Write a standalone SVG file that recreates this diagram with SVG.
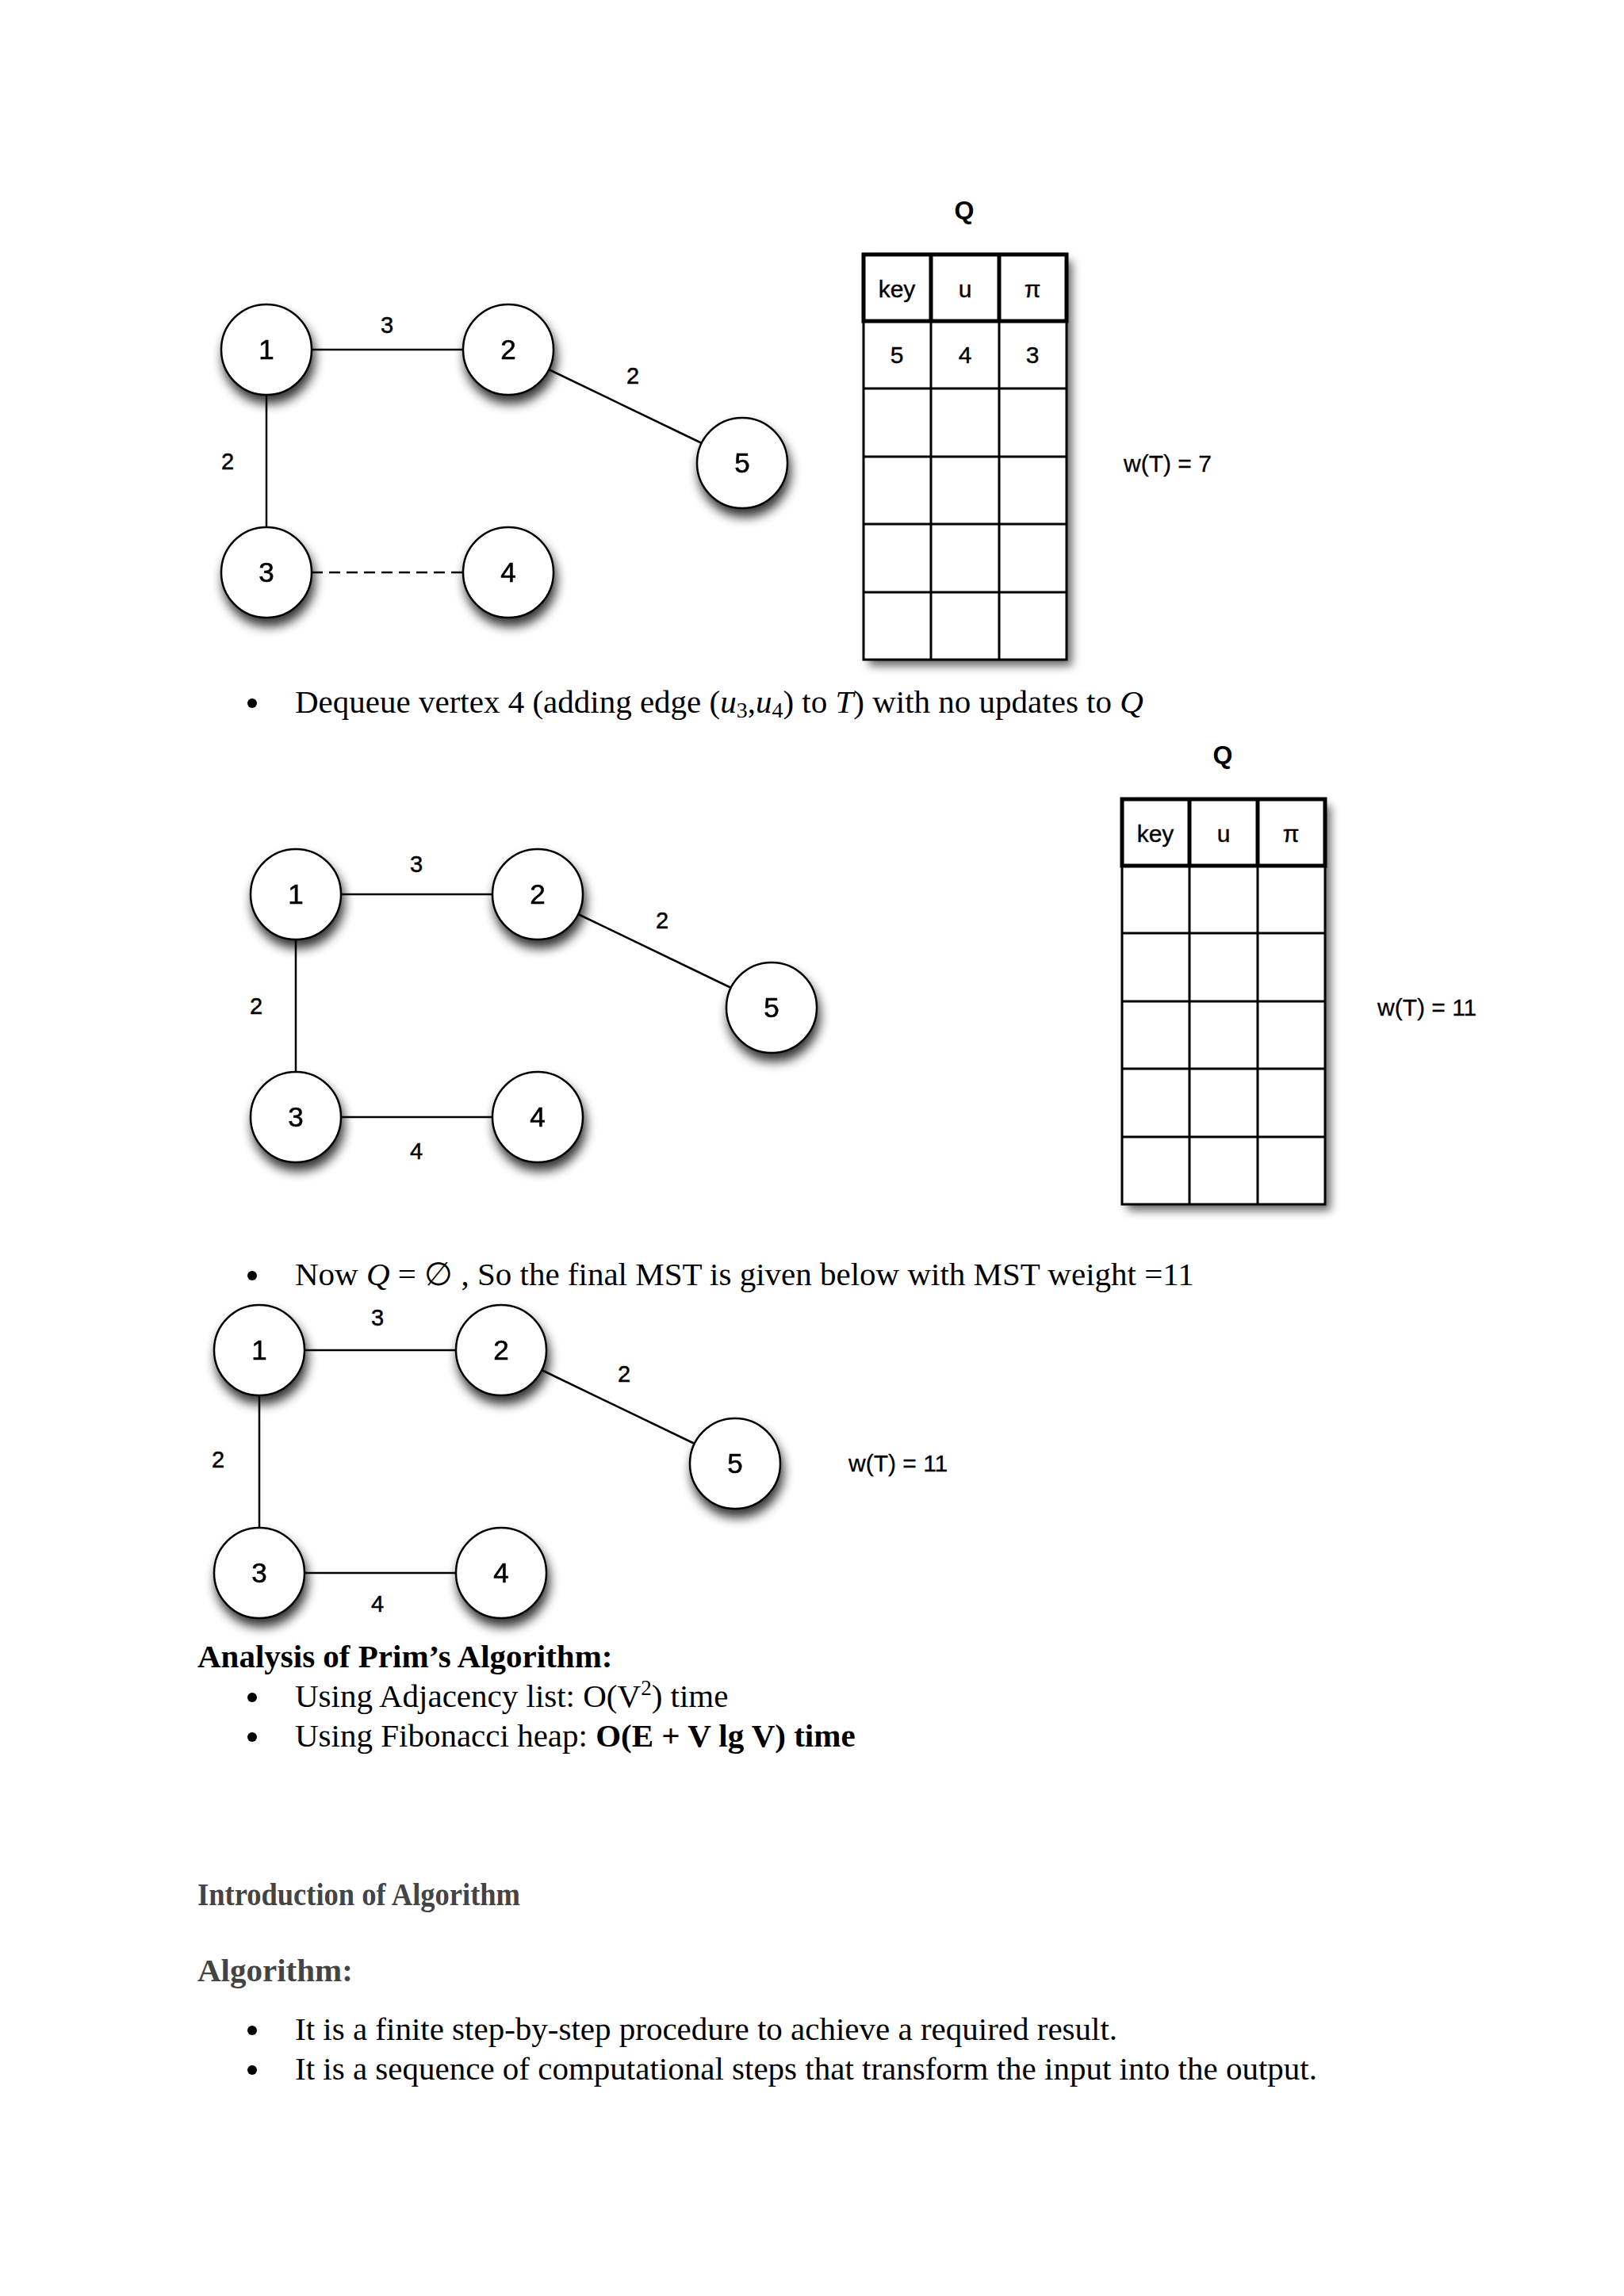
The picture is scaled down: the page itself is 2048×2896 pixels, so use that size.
<svg xmlns="http://www.w3.org/2000/svg" width="2048" height="2896" viewBox="0 0 2048 2896">
<defs>
<filter id="sh" x="-50%" y="-50%" width="200%" height="210%">
<feGaussianBlur in="SourceAlpha" stdDeviation="7"/>
<feOffset dx="3" dy="10" result="b"/>
<feComponentTransfer><feFuncA type="linear" slope="0.8"/></feComponentTransfer>
<feMerge><feMergeNode/><feMergeNode in="SourceGraphic"/></feMerge>
</filter>
<filter id="tsh" x="-10%" y="-10%" width="130%" height="125%">
<feGaussianBlur in="SourceAlpha" stdDeviation="6"/>
<feOffset dx="7" dy="8"/>
<feComponentTransfer><feFuncA type="linear" slope="0.6"/></feComponentTransfer>
<feMerge><feMergeNode/><feMergeNode in="SourceGraphic"/></feMerge>
</filter>
</defs>
<style>
.node circle{fill:#fff;stroke:#000;stroke-width:2.5}
.nl{font-family:"Liberation Sans",Arial,sans-serif;font-size:35px;text-anchor:middle;fill:#000;stroke:#000;stroke-width:0.6}
.el{font-family:"Liberation Sans",Arial,sans-serif;font-size:29px;text-anchor:middle;fill:#000;stroke:#000;stroke-width:0.5}
.edge{stroke:#000;stroke-width:2.5;fill:none}
.dash{stroke-dasharray:14 8}
.tb{font-family:"Liberation Sans",Arial,sans-serif;font-size:30px;text-anchor:middle;fill:#000;stroke:#000;stroke-width:0.4}
.ql{font-family:"Liberation Sans",Arial,sans-serif;font-size:32px;font-weight:bold;text-anchor:middle;fill:#000}
.wt{font-family:"Liberation Sans",Arial,sans-serif;font-size:30px;fill:#000;stroke:#000;stroke-width:0.3}
.thick{fill:#fff;stroke:#000;stroke-width:5}
.thin{fill:none;stroke:#000;stroke-width:3}
.body{font-family:"Liberation Serif","Times New Roman",serif;font-size:41px;fill:#000}
.hd{font-family:"Liberation Serif","Times New Roman",serif;font-size:41px;font-weight:bold;fill:#000}
.gh{font-family:"Liberation Serif","Times New Roman",serif;font-size:41px;font-weight:bold;fill:#444}
.bul{fill:#000}
</style>
<rect width="2048" height="2896" fill="#fff"/>

<!-- Graph 1 -->
<g id="graph1-edges">
<line class="edge" x1="393" y1="441" x2="584" y2="441"/>
<line class="edge" x1="336" y1="498" x2="336" y2="665"/>
<line class="edge" x1="692" y1="466" x2="885" y2="559"/>
<line class="edge dash" x1="393" y1="722" x2="584" y2="722"/>
<text class="el" x="488" y="420">3</text>
<text class="el" x="798" y="484">2</text>
<text class="el" x="287" y="592">2</text>
</g>
<g id="g1-n1" class="node" filter="url(#sh)"><circle cx="336" cy="441" r="57"/><text class="nl" x="336" y="453">1</text></g>
<g id="g1-n2" class="node" filter="url(#sh)"><circle cx="641" cy="441" r="57"/><text class="nl" x="641" y="453">2</text></g>
<g id="g1-n5" class="node" filter="url(#sh)"><circle cx="936" cy="584" r="57"/><text class="nl" x="936" y="596">5</text></g>
<g id="g1-n3" class="node" filter="url(#sh)"><circle cx="336" cy="722" r="57"/><text class="nl" x="336" y="734">3</text></g>
<g id="g1-n4" class="node" filter="url(#sh)"><circle cx="641" cy="722" r="57"/><text class="nl" x="641" y="734">4</text></g>

<!-- Table 1 -->
<g id="table1">
<text class="ql" x="1216" y="276">Q</text>
<g filter="url(#tsh)">
<rect x="1089" y="321" width="256" height="511" fill="#fff"/>
</g>
<rect class="thin" x="1089" y="405" width="256" height="427"/>
<line class="thin" x1="1174" y1="405" x2="1174" y2="832"/>
<line class="thin" x1="1260" y1="405" x2="1260" y2="832"/>
<line class="thin" x1="1089" y1="490" x2="1345" y2="490"/>
<line class="thin" x1="1089" y1="576" x2="1345" y2="576"/>
<line class="thin" x1="1089" y1="661" x2="1345" y2="661"/>
<line class="thin" x1="1089" y1="747" x2="1345" y2="747"/>
<rect class="thick" x="1089" y="321" width="256" height="84"/>
<line class="thick" x1="1174" y1="321" x2="1174" y2="405"/>
<line class="thick" x1="1260" y1="321" x2="1260" y2="405"/>
<text class="tb" x="1131" y="375">key</text>
<text class="tb" x="1217" y="375">u</text>
<text class="tb" x="1302" y="375">π</text>
<text class="tb" x="1131" y="458">5</text>
<text class="tb" x="1217" y="458">4</text>
<text class="tb" x="1302" y="458">3</text>
<text class="wt" x="1417" y="595">w(T) = 7</text>
</g>

<!-- Bullet 1 -->
<g id="bullet1">
<circle class="bul" cx="318" cy="887" r="6"/>
<text class="body" x="372" y="899">Dequeue vertex 4 (adding edge (<tspan font-style="italic">u</tspan><tspan font-size="28" dy="6">3</tspan><tspan dy="-6">,</tspan><tspan font-style="italic">u</tspan><tspan font-size="28" dy="6">4</tspan><tspan dy="-6">) to </tspan><tspan font-style="italic">T</tspan>) with no updates to <tspan font-style="italic">Q</tspan></text>
</g>

<!-- Graph 2 -->
<g id="graph2-edges">
<line class="edge" x1="430" y1="1128" x2="621" y2="1128"/>
<line class="edge" x1="373" y1="1185" x2="373" y2="1352"/>
<line class="edge" x1="729" y1="1153" x2="922" y2="1246"/>
<line class="edge" x1="430" y1="1409" x2="621" y2="1409"/>
<text class="el" x="525" y="1100">3</text>
<text class="el" x="835" y="1171">2</text>
<text class="el" x="323" y="1279">2</text>
<text class="el" x="525" y="1462">4</text>
</g>
<g id="g2-n1" class="node" filter="url(#sh)"><circle cx="373" cy="1128" r="57"/><text class="nl" x="373" y="1140">1</text></g>
<g id="g2-n2" class="node" filter="url(#sh)"><circle cx="678" cy="1128" r="57"/><text class="nl" x="678" y="1140">2</text></g>
<g id="g2-n5" class="node" filter="url(#sh)"><circle cx="973" cy="1271" r="57"/><text class="nl" x="973" y="1283">5</text></g>
<g id="g2-n3" class="node" filter="url(#sh)"><circle cx="373" cy="1409" r="57"/><text class="nl" x="373" y="1421">3</text></g>
<g id="g2-n4" class="node" filter="url(#sh)"><circle cx="678" cy="1409" r="57"/><text class="nl" x="678" y="1421">4</text></g>

<!-- Table 2 -->
<g id="table2">
<text class="ql" x="1542" y="963">Q</text>
<g filter="url(#tsh)">
<rect x="1415" y="1008" width="256" height="511" fill="#fff"/>
</g>
<rect class="thin" x="1415" y="1092" width="256" height="427"/>
<line class="thin" x1="1500" y1="1092" x2="1500" y2="1519"/>
<line class="thin" x1="1586" y1="1092" x2="1586" y2="1519"/>
<line class="thin" x1="1415" y1="1177" x2="1671" y2="1177"/>
<line class="thin" x1="1415" y1="1263" x2="1671" y2="1263"/>
<line class="thin" x1="1415" y1="1348" x2="1671" y2="1348"/>
<line class="thin" x1="1415" y1="1434" x2="1671" y2="1434"/>
<rect class="thick" x="1415" y="1008" width="256" height="84"/>
<line class="thick" x1="1500" y1="1008" x2="1500" y2="1092"/>
<line class="thick" x1="1586" y1="1008" x2="1586" y2="1092"/>
<text class="tb" x="1457" y="1062">key</text>
<text class="tb" x="1543" y="1062">u</text>
<text class="tb" x="1628" y="1062">π</text>
<text class="wt" x="1737" y="1281">w(T) = 11</text>
</g>

<!-- Bullet 2 -->
<g id="bullet2">
<circle class="bul" cx="318" cy="1609" r="6"/>
<text class="body" x="372" y="1621">Now <tspan font-style="italic">Q</tspan> = ∅ , So the final MST is given below with MST weight =11</text>
</g>

<!-- Graph 3 -->
<g id="graph3-edges">
<line class="edge" x1="384" y1="1703" x2="575" y2="1703"/>
<line class="edge" x1="327" y1="1760" x2="327" y2="1927"/>
<line class="edge" x1="683" y1="1728" x2="876" y2="1821"/>
<line class="edge" x1="384" y1="1984" x2="575" y2="1984"/>
<text class="el" x="476" y="1672">3</text>
<text class="el" x="787" y="1743">2</text>
<text class="el" x="275" y="1851">2</text>
<text class="el" x="476" y="2033">4</text>
</g>
<g id="g3-n1" class="node" filter="url(#sh)"><circle cx="327" cy="1703" r="57"/><text class="nl" x="327" y="1715">1</text></g>
<g id="g3-n2" class="node" filter="url(#sh)"><circle cx="632" cy="1703" r="57"/><text class="nl" x="632" y="1715">2</text></g>
<g id="g3-n5" class="node" filter="url(#sh)"><circle cx="927" cy="1846" r="57"/><text class="nl" x="927" y="1858">5</text></g>
<g id="g3-n3" class="node" filter="url(#sh)"><circle cx="327" cy="1984" r="57"/><text class="nl" x="327" y="1996">3</text></g>
<g id="g3-n4" class="node" filter="url(#sh)"><circle cx="632" cy="1984" r="57"/><text class="nl" x="632" y="1996">4</text></g>
<text class="wt" x="1070" y="1856">w(T) = 11</text>

<!-- Analysis -->
<g id="analysis">
<text class="hd" x="249" y="2103">Analysis of Prim’s Algorithm:</text>
<circle class="bul" cx="318" cy="2141" r="6"/>
<text class="body" x="372" y="2153">Using Adjacency list: O(V<tspan font-size="27" dy="-15">2</tspan><tspan dy="15">) time</tspan></text>
<circle class="bul" cx="318" cy="2191" r="6"/>
<text class="body" x="372" y="2203">Using Fibonacci heap: <tspan font-weight="bold">O(E + V lg V) time</tspan></text>
</g>

<!-- Introduction -->
<g id="intro">
<text class="gh" x="249" y="2403" textLength="407" lengthAdjust="spacingAndGlyphs">Introduction of Algorithm</text>
<text class="gh" x="249" y="2499">Algorithm:</text>
<circle class="bul" cx="318" cy="2561" r="6"/>
<text class="body" x="372" y="2573">It is a finite step-by-step procedure to achieve a required result.</text>
<circle class="bul" cx="318" cy="2611" r="6"/>
<text class="body" x="372" y="2623">It is a sequence of computational steps that transform the input into the output.</text>
</g>
</svg>
